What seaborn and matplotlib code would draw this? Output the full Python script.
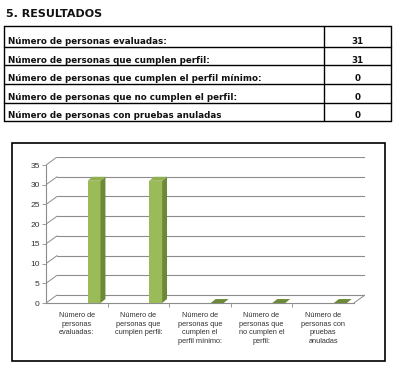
import numpy as np
import pandas as pd
import matplotlib
matplotlib.use("Agg")
import matplotlib.pyplot as plt
import seaborn as sns
from matplotlib.patches import Polygon, Rectangle

# datos del informe
title = "5. RESULTADOS"
row_labels = [
    "Número de personas evaluadas:",
    "Número de personas que cumplen perfil:",
    "Número de personas que cumplen el perfil mínimo:",
    "Número de personas que no cumplen el perfil:",
    "Número de personas con pruebas anuladas",
]
values = [31, 31, 0, 0, 0]
bar_labels = [
    "Número de\npersonas\nevaluadas:",
    "Número de\npersonas que\ncumplen perfil:",
    "Número de\npersonas que\ncumplen el\nperfil mínimo:",
    "Número de\npersonas que\nno cumplen el\nperfil:",
    "Número de\npersonas con\npruebas\nanuladas",
]
y_ticks = [0, 5, 10, 15, 20, 25, 30, 35]

front = "#9BBB59"
side = "#6B8937"
top = "#8DAF4E"
grid = "#8C8C8C"

sns.set_style("white")
plt.rcParams["font.family"] = ["DejaVu Sans"]

fig = plt.figure(figsize=(4, 3.68), dpi=100)

# page layer in pixel units: heading, table, chart frame
page = fig.add_axes([0, 0, 1, 1])
page.set_xlim(0, 400)
page.set_ylim(368, 0)
page.axis("off")

page.text(6, 14, title, fontsize=8, fontweight="bold", va="center", ha="left",
          color="#111111")

t_top, t_left, t_sep, t_right = 26, 4, 324, 391
lines_y = [t_top] + [46.7 + 18.6 * k for k in range(len(row_labels))]
for y in lines_y:
    page.plot([t_left, t_right], [y, y], color="black", lw=1)
for x in (t_left, t_sep, t_right):
    page.plot([x, x], [t_top, lines_y[-1]], color="black", lw=1)
for i, (lab, v) in enumerate(zip(row_labels, values)):
    yb = lines_y[i + 1] - 2.6
    page.text(8, yb, lab, fontsize=6.3, fontweight="bold", va="baseline", ha="left",
              color="#111111")
    page.text((t_sep + t_right) / 2, yb, str(v), fontsize=6.3, fontweight="bold",
              va="baseline", ha="center", color="#111111")

page.add_patch(Rectangle((12, 143), 373, 218, fill=False, ec="black", lw=1.2))

# pseudo 3d column chart
ax = fig.add_axes([0.115, 0.17663, 0.7975, 0.39674])
ax.patch.set_alpha(0)
df = pd.DataFrame({"cat": row_labels, "val": values})
sns.barplot(data=df, x="cat", y="val", color=front, saturation=1, width=0.21,
            edgecolor="none", ax=ax, zorder=3)

xl, xr = -0.78, 4.22     # front floor edge
ddx, ddy = 0.18, 2.03    # depth of the back wall
bdx, bdy = 0.08, 1.0     # depth of each column

for v in y_ticks:
    ax.plot([xl, xl + ddx], [v, v + ddy], color=grid, lw=0.7, zorder=1)
    ax.plot([xl + ddx, xr + ddx], [v + ddy, v + ddy], color=grid, lw=0.8, zorder=1)
ax.plot([xr, xr + ddx], [0, ddy], color=grid, lw=0.7, zorder=1)

for p in ax.patches[:]:
    x0, w, h = p.get_x(), p.get_width(), p.get_height()
    x1 = x0 + w
    ax.add_patch(Polygon([(x1, 0), (x1 + bdx, bdy), (x1 + bdx, h + bdy), (x1, h)],
                         closed=True, fc=side, ec="none", zorder=3))
    ax.add_patch(Polygon([(x0, h), (x1, h), (x1 + bdx, h + bdy), (x0 + bdx, h + bdy)],
                         closed=True, fc=top if h > 0 else side, ec="none", zorder=3))

ax.set_xlim(xl, xr + ddx)
ax.set_ylim(0, 35 + ddy)
ax.set_xlabel("")
ax.set_ylabel("")

for s in ("top", "right"):
    ax.spines[s].set_visible(False)
ax.spines["left"].set_bounds(0, 35)
ax.spines["bottom"].set_bounds(xl, xr)
for s in ("left", "bottom"):
    ax.spines[s].set_color(grid)
    ax.spines[s].set_linewidth(0.8)

ax.set_yticks(y_ticks)
ax.tick_params(axis="y", left=True, length=3, width=0.6, color=grid, pad=1.5,
               labelsize=6.1, labelcolor="#333333")
for t in ax.get_yticklabels():
    t.set_family("Liberation Sans")

ax.set_xticks(np.arange(len(bar_labels)) - 0.28, bar_labels)
ax.set_xticks([xl + k for k in range(1, 5)], minor=True)
ax.tick_params(axis="x", which="major", bottom=False, length=0, pad=6.5,
               labelsize=5.3, labelcolor="#333333")
ax.tick_params(axis="x", which="minor", bottom=True, length=3, width=0.6, color=grid)
for t in ax.get_xticklabels():
    t.set_family("Liberation Sans")
    t.set_linespacing(1.3)

fig.savefig("out.png", dpi=100)
